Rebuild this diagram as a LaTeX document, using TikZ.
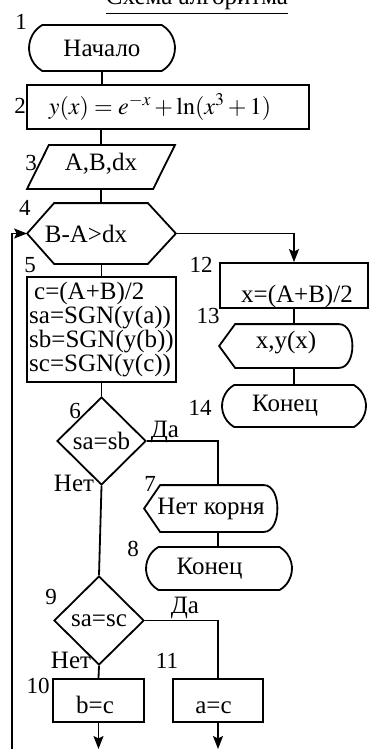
\documentclass[tikz,border=0pt]{standalone}
\usepackage{mathptmx}
\usepackage[no-math]{fontspec}
\setmainfont{Liberation Serif}
\usetikzlibrary{shapes, arrows.meta, positioning}
\tikzstyle{block} = [draw, rectangle, inner sep=2pt]
\tikzstyle{term} = [draw, rounded rectangle, rounded rectangle arc length=120, inner sep=2pt]
\tikzstyle{io} = [draw, trapezium, trapezium left angle=62, trapezium right angle=118, trapezium stretches=true, inner sep=2pt]
\tikzstyle{decision} = [draw, diamond, inner sep=1pt]
\tikzstyle{prep} = [rectangle, inner sep=2pt, append after command={\pgfextra{\draw ([xshift=27pt]\tikzlastnode.north west) -- ([xshift=-28pt]\tikzlastnode.north east) -- (\tikzlastnode.east) -- ([xshift=-28pt]\tikzlastnode.south east) -- ([xshift=27pt]\tikzlastnode.south west) -- (\tikzlastnode.west) -- cycle;}}]
\tikzstyle{display} = [rectangle, inner sep=2pt, append after command={\pgfextra{\draw (\tikzlastnode.west) -- ([xshift=16pt]\tikzlastnode.north west) -- ([xshift=-14pt]\tikzlastnode.north east) .. controls ([xshift=4pt]\tikzlastnode.north east) and ([xshift=4pt]\tikzlastnode.south east) .. ([xshift=-14pt]\tikzlastnode.south east) -- ([xshift=16pt]\tikzlastnode.south west) -- cycle;}}]
\tikzstyle{low} = [text height=25pt, text depth=0pt]
\tikzstyle{num} = [inner sep=0pt, font=\fontsize{23}{23}\selectfont]
\tikzstyle{answer} = [inner sep=0pt, anchor=base]
\newcommand{\pad}[1]{\hspace*{#1}\mbox{}}

\begin{document}
\begin{tikzpicture}[x=1pt, y=-1pt, >={Stealth[length=13pt, width=10pt, inset=2.5pt]}, line width=1.8pt, font=\fontsize{25}{20}\selectfont]
    \useasboundingbox (0,0) rectangle (369,749);
    % title, cut by the page edge
    \node[answer] (title) at (197,5) {\underline{Схема алгоритма}};

    % left column
    \node[term, minimum width=150pt, minimum height=46pt] (start) at (102,48) {Начало};
    \node[block, minimum width=282pt, minimum height=44pt] (func) at (168,107)
        {\fontsize{24}{24}\selectfont$y(x)=e^{-x}+\ln(x^3+1)$\pad{16pt}};
    \node[io, minimum width=148pt, minimum height=44pt, text height=16pt, text depth=10pt] (input) at (101,167) {A,B,dx};
    \node[prep, minimum width=147pt, minimum height=59pt] (loop) at (101.5,233.5) {B-A>dx\pad{31pt}};
    \node[block, minimum width=149pt, minimum height=105pt, align=left] (body) at (101.5,329.5)
        {\hspace*{5pt}c=(A+B)/2\\sa=SGN(y(a))\\sb=SGN(y(b))\\sc=SGN(y(c))};
    \node[decision, minimum width=89pt, minimum height=88pt] (cond1) at (101.5,441) {sa=sb};
    \node[display, minimum width=132pt, minimum height=45pt] (msg) at (211,508.5) {Нет корня};
    \node[term, minimum width=150pt, minimum height=43pt] (stop1) at (219,568.5) {Конец\pad{19pt}};
    \node[decision, minimum width=90pt, minimum height=89pt] (cond2) at (99,620.5) {sa=sc};
    \node[block, low, minimum width=91pt, minimum height=43pt] (setb) at (98.5,700.5) {b=c\pad{7pt}};
    \node[block, low, minimum width=90pt, minimum height=43pt] (seta) at (218,700.5) {a=c\pad{9pt}};

    % right column
    \node[block, minimum width=148pt, minimum height=45pt, text height=33pt, text depth=0pt] (result) at (294,285.5) {\pad{6pt}x=(A+B)/2};
    \node[display, minimum width=132pt, minimum height=42pt, text height=17pt, text depth=13pt] (out) at (286,346) {x,y(x)};
    \node[term, minimum width=148pt, minimum height=42pt] (stop2) at (294,406) {Конец\pad{18pt}};

    % block numbers
    \node[num] (n1) at (21,22) {1};
    \node[num] (n2) at (20,106) {2};
    \node[num] (n3) at (31,163) {3};
    \node[num] (n4) at (25,208) {4};
    \node[num] (n5) at (30,265) {5};
    \node[num] (n6) at (75,411) {6};
    \node[num] (n7) at (150,484) {7};
    \node[num] (n8) at (133,549) {8};
    \node[num] (n9) at (51,597) {9};
    \node[num] (n10) at (38,686) {10};
    \node[num] (n11) at (167,661) {11};
    \node[num] (n12) at (201,265) {12};
    \node[num] (n13) at (208,316) {13};
    \node[num] (n14) at (200,408) {14};

    % answers
    \node[answer] (yes1) at (165,437) {Да};
    \node[answer] (no1) at (74,491) {Нет};
    \node[answer] (yes2) at (185,613) {Да};
    \node[answer] (no2) at (71,668) {Нет};

    % loose ends at the page bottom
    \coordinate (endb) at (98.5,749);
    \coordinate (enda) at (218,749);
    \coordinate (back) at (12,749);

    \draw (start.south) -- (start.south |- func.north);
    \draw (input.north |- func.south) -- (input.north);
    \draw (input.south) -- (input.south |- loop.north);
    \draw (loop.south) -- (body.north);
    \draw (body.south) -- (cond1.north);
    \draw (cond1.south) -- (cond2.north);
    \draw (cond1.east) -| (msg.north -| seta);
    \draw (msg.south -| seta) -- (stop1.north -| seta);
    \draw (cond2.east) -| (seta.north);
    \draw (cond2.south) -- (setb.north);
    \draw[->] (loop.east) -| (result.north);
    \draw (result.south) -- (result.south |- out.north);
    \draw (out.south -| result) -- (stop2.north -| result);
    \draw[->] (setb.south) -- (endb);
    \draw[->] (seta.south) -- (enda);
    \draw[->] (back) |- (loop.west);
\end{tikzpicture}
\end{document}
